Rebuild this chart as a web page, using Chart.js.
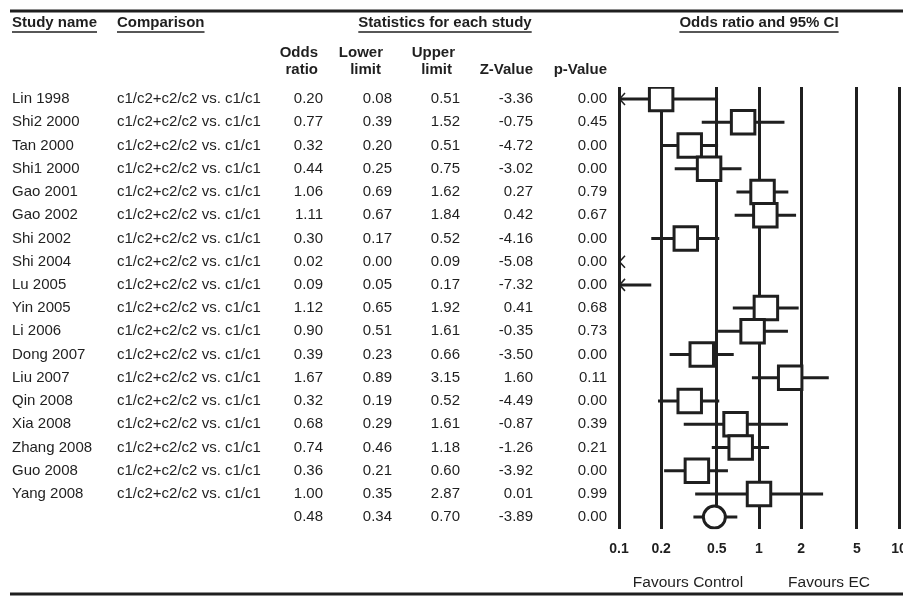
<!DOCTYPE html>
<html>
<head>
<meta charset="utf-8">
<script src="https://cdn.jsdelivr.net/npm/chart.js@4.4.1/dist/chart.umd.min.js"></script>
<style>
  html, body { margin: 0; padding: 0; background: #ffffff; overflow: hidden; width: 903px; height: 596px; }
  canvas { display: block; }
</style>
</head>
<body>
<canvas id="c" width="924" height="596"></canvas>
<script>
// ---------------- data ----------------
const studies = ['Lin 1998','Shi2 2000','Tan 2000','Shi1 2000','Gao 2001','Gao 2002','Shi 2002','Shi 2004','Lu 2005','Yin 2005','Li 2006','Dong 2007','Liu 2007','Qin 2008','Xia 2008','Zhang 2008','Guo 2008','Yang 2008'];
const comparisons = ['c1/c2+c2/c2 vs. c1/c1','c1/c2+c2/c2 vs. c1/c1','c1/c2+c2/c2 vs. c1/c1','c1/c2+c2/c2 vs. c1/c1','c1/c2+c2/c2 vs. c1/c1','c1/c2+c2/c2 vs. c1/c1','c1/c2+c2/c2 vs. c1/c1','c1/c2+c2/c2 vs. c1/c1','c1/c2+c2/c2 vs. c1/c1','c1/c2+c2/c2 vs. c1/c1','c1/c2+c2/c2 vs. c1/c1','c1/c2+c2/c2 vs. c1/c1','c1/c2+c2/c2 vs. c1/c1','c1/c2+c2/c2 vs. c1/c1','c1/c2+c2/c2 vs. c1/c1','c1/c2+c2/c2 vs. c1/c1','c1/c2+c2/c2 vs. c1/c1','c1/c2+c2/c2 vs. c1/c1'];
const oddsRatio = [0.20,0.77,0.32,0.44,1.06,1.11,0.30,0.02,0.09,1.12,0.90,0.39,1.67,0.32,0.68,0.74,0.36,1.00];
const lowerLimit = [0.08,0.39,0.20,0.25,0.69,0.67,0.17,0.00,0.05,0.65,0.51,0.23,0.89,0.19,0.29,0.46,0.21,0.35];
const upperLimit = [0.51,1.52,0.51,0.75,1.62,1.84,0.52,0.09,0.17,1.92,1.61,0.66,3.15,0.52,1.61,1.18,0.60,2.87];
const zValues = [-3.36,-0.75,-4.72,-3.02,0.27,0.42,-4.16,-5.08,-7.32,0.41,-0.35,-3.50,1.60,-4.49,-0.87,-1.26,-3.92,0.01];
const pValues = [0.00,0.45,0.00,0.00,0.79,0.67,0.00,0.00,0.00,0.68,0.73,0.00,0.11,0.00,0.39,0.21,0.00,0.99];
const summaryOR = 0.48, summaryLower = 0.34, summaryUpper = 0.70, summaryZ = -3.89, summaryP = 0.00;
const tickValues = [0.1, 0.2, 0.5, 1, 2, 5, 10];
const tickLabels = ['0.1', '0.2', '0.5', '1', '2', '5', '10'];

// ---------------- styles ----------------
const INK = '#1f1f1f';
const FONT = '"Liberation Sans", Arial, Helvetica, sans-serif';

const nRows = studies.length + 1;

const forestPlugin = {
  id: 'forestWhiskers',
  beforeDatasetsDraw(chart) {
    const { ctx, scales: { x, y } } = chart;
    const rows = lowerLimit.map((lo, i) => ({ lo, hi: upperLimit[i], row: i }));
    rows.push({ lo: summaryLower, hi: summaryUpper, row: studies.length });
    ctx.save();
    ctx.strokeStyle = INK;
    rows.forEach(r => {
      const py = y.getPixelForValue(r.row);
      const a = Math.max(r.lo, x.min), b = Math.min(r.hi, x.max);
      if (b > a) {
        ctx.lineWidth = 3;
        ctx.beginPath();
        ctx.moveTo(x.getPixelForValue(a), py);
        ctx.lineTo(x.getPixelForValue(b), py);
        ctx.stroke();
      }
      if (r.lo < x.min) {
        const x0 = x.getPixelForValue(x.min);
        ctx.lineWidth = 1.5;
        ctx.beginPath();
        ctx.moveTo(x0 + 6, py - 6);
        ctx.lineTo(x0 + 0.5, py);
        ctx.lineTo(x0 + 6, py + 6);
        ctx.stroke();
      }
    });
    ctx.restore();
  }
};

const tablePlugin = {
  id: 'forestTable',
  afterDraw(chart) {
    const { ctx, scales: { y } } = chart;
    ctx.save();
    ctx.fillStyle = INK;
    ctx.strokeStyle = INK;
    // rules
    ctx.lineWidth = 3;
    ctx.beginPath(); ctx.moveTo(10, 11); ctx.lineTo(924, 11); ctx.stroke();
    ctx.beginPath(); ctx.moveTo(10, 594); ctx.lineTo(924, 594); ctx.stroke();

    ctx.textBaseline = 'middle';
    const underlined = (txt, x, yy, align) => {
      ctx.textAlign = align;
      ctx.fillText(txt, x, yy);
      const w = ctx.measureText(txt).width;
      const x0 = align === 'center' ? x - w / 2 : (align === 'right' ? x - w : x);
      ctx.lineWidth = 1.3;
      ctx.beginPath(); ctx.moveTo(x0, 32); ctx.lineTo(x0 + w, 32); ctx.stroke();
    };
    ctx.font = 'bold 15px ' + FONT;
    underlined('Study name', 12, 23, 'left');
    underlined('Comparison', 117, 23, 'left');
    underlined('Statistics for each study', 445, 23, 'center');
    underlined('Odds ratio and 95% CI', 759, 23, 'center');

    ctx.textAlign = 'right';
    ctx.fillText('Odds', 318, 53);
    ctx.fillText('ratio', 318, 70);
    ctx.fillText('Lower', 383, 53);
    ctx.fillText('limit', 381, 70);
    ctx.fillText('Upper', 455, 53);
    ctx.fillText('limit', 452, 70);
    ctx.fillText('Z-Value', 533, 70);
    ctx.fillText('p-Value', 607, 70);

    ctx.font = '15px ' + FONT;
    const cols = [323, 392, 460, 533, 607];
    const drawNums = (vals, py) => {
      ctx.textAlign = 'right';
      vals.forEach((v, k) => ctx.fillText(v.toFixed(2), cols[k], py));
    };
    studies.forEach((s, i) => {
      const py = y.getPixelForValue(i);
      ctx.textAlign = 'left';
      ctx.fillText(s, 12, py);
      ctx.fillText(comparisons[i], 117, py);
      drawNums([oddsRatio[i], lowerLimit[i], upperLimit[i], zValues[i], pValues[i]], py);
    });
    drawNums([summaryOR, summaryLower, summaryUpper, summaryZ, summaryP], y.getPixelForValue(studies.length));

    ctx.font = '15.5px ' + FONT;
    ctx.textAlign = 'center';
    ctx.fillText('Favours Control', 688, 583);
    ctx.fillText('Favours EC', 829, 583);
    ctx.restore();
  }
};

// hide a marker whose estimate lies outside the plotted range (as in the original)
const inRangeRadius = r => ctx => (ctx.raw && ctx.raw.x < tickValues[0]) ? 0 : r;

new Chart(document.getElementById('c'), {
  type: 'scatter',
  data: {
    datasets: [
      {
        label: 'Studies',
        data: oddsRatio.map((v, i) => ({ x: v, y: i })),
        pointStyle: 'rect',
        pointRadius: inRangeRadius(16.6),
        pointHoverRadius: inRangeRadius(16.6),
        borderWidth: 3,
        borderColor: INK,
        backgroundColor: '#ffffff'
      },
      {
        label: 'Summary',
        data: [{ x: summaryOR, y: studies.length }],
        pointStyle: 'circle',
        pointRadius: 11,
        pointHoverRadius: 11,
        borderWidth: 3,
        borderColor: INK,
        backgroundColor: '#ffffff'
      }
    ]
  },
  options: {
    responsive: false,
    animation: false,
    events: [],
    layout: { padding: { left: 619, right: 25, top: 87, bottom: 26 } },
    plugins: { legend: { display: false }, tooltip: { enabled: false } },
    scales: {
      x: {
        type: 'logarithmic',
        min: 0.1,
        max: 10,
        afterBuildTicks(scale) { scale.ticks = tickValues.map(v => ({ value: v })); },
        grid: { color: INK, lineWidth: 3, drawTicks: false },
        border: { display: false },
        ticks: {
          autoSkip: false,
          maxRotation: 0,
          padding: 12,
          color: INK,
          font: { family: FONT, size: 14, weight: 'bold' },
          callback(value) {
            const k = tickValues.indexOf(value);
            return k >= 0 ? tickLabels[k] : '';
          }
        }
      },
      y: {
        type: 'linear',
        display: false,
        reverse: true,
        min: -0.52,
        max: nRows - 1 + 0.52
      }
    }
  },
  plugins: [forestPlugin, tablePlugin]
});
</script>
</body>
</html>
